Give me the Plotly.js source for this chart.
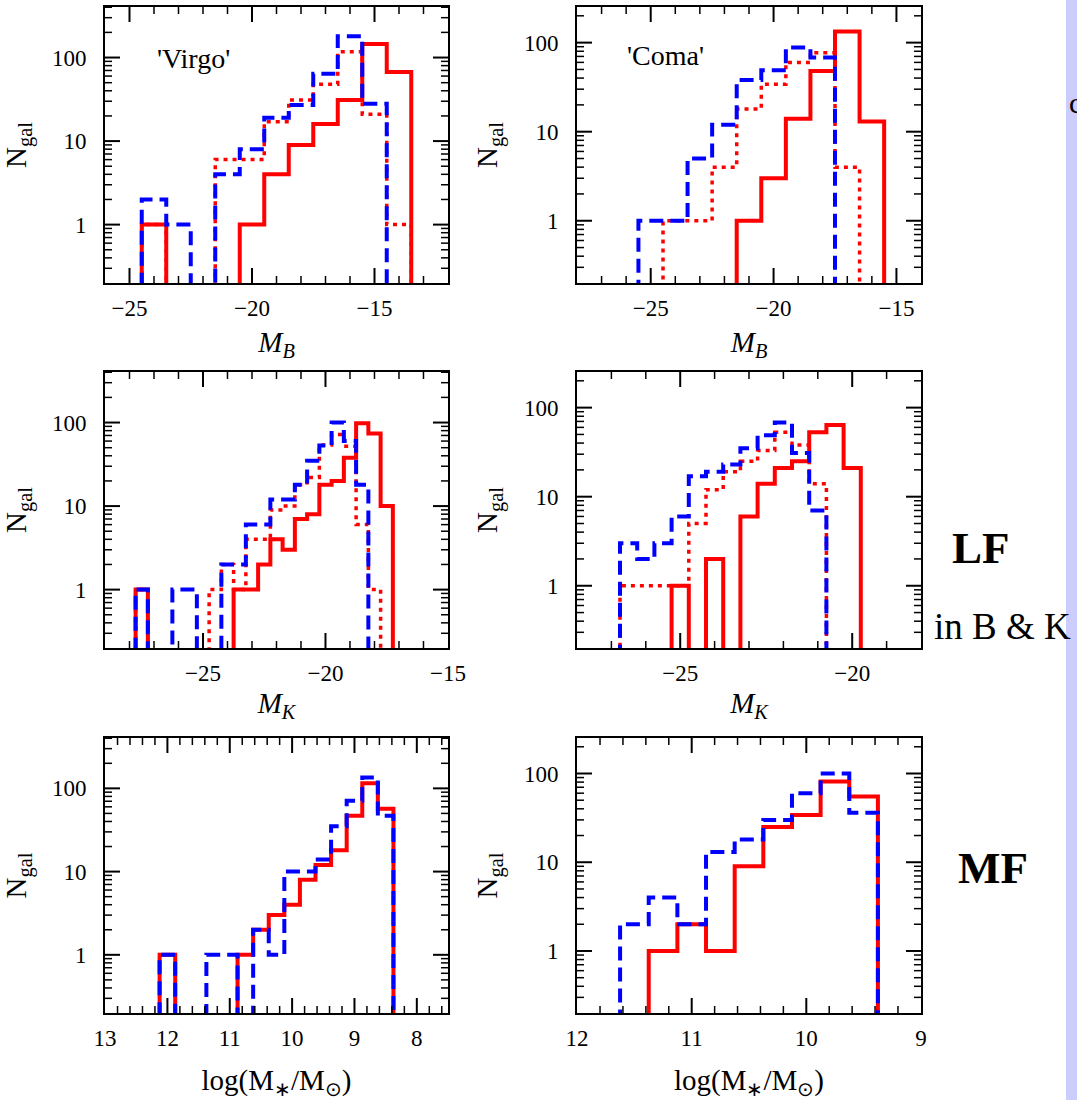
<!DOCTYPE html>
<html>
<head>
<meta charset="utf-8">
<script src="https://cdn.plot.ly/plotly-3.0.1.min.js"></script>
<style>html,body{margin:0;padding:0;background:#ffffff;}</style>
</head>
<body>
<div id="chart" style="width:1077px;height:1100px"></div>
<script>
// ---------------- DATA ----------------
// Panel 1: 'Virgo', B-band luminosity function (bin centres, mag)
const virgoB_centers = [-24, -23, -22, -21, -20, -19, -18, -17, -16, -15, -14];
const virgoB_solid   = [1, 0, 0, 0, 1, 4, 9, 16, 31, 145, 67];
const virgoB_dotted  = [1, 0, 0, 6, 6, 17, 31, 48, 117, 21, 1];
const virgoB_dashed  = [2, 1, 0, 4, 8, 19, 27, 64, 180, 28, 0];

// Panel 2: 'Coma', B-band
const comaB_centers = [-25, -24, -23, -22, -21, -20, -19, -18, -17, -16];
const comaB_solid   = [0, 0, 0, 0, 1, 3, 14, 48, 133, 13];
const comaB_dotted  = [0, 1, 1, 4, 18, 34, 60, 77, 4, 0];
const comaB_dashed  = [1, 1, 5, 12, 38, 49, 88, 68, 0, 0];

// Panel 3: 'Virgo', K-band
const virgoK_centers = [-27.5, -27, -26.5, -26, -25.5, -25, -24.5, -24, -23.5, -23, -22.5,
                        -22, -21.5, -21, -20.5, -20, -19.5, -19, -18.5, -18, -17.5];
const virgoK_solid   = [1, 0, 0, 0, 0, 0, 0, 0, 1, 1, 2, 4, 3, 7, 8, 18, 20, 38, 98, 74, 10];
const virgoK_dotted  = [1, 0, 0, 0, 0, 0, 1, 2, 1, 4, 4, 9, 10, 18, 22, 54, 72, 52, 6, 1, 0];
const virgoK_dashed  = [1, 0, 0, 1, 1, 0, 0, 2, 2, 6, 6, 12, 12, 18, 35, 53, 100, 60, 18, 0, 0];

// Panel 4: 'Coma', K-band
const comaK_centers = [-26.5, -26, -25.5, -25, -24.5, -24, -23.5, -23, -22.5, -22, -21.5, -21, -20.5, -20];
const comaK_solid   = [0, 0, 0, 1, 0, 2, 0, 6, 14, 21, 25, 53, 64, 21];
const comaK_dotted  = [1, 1, 1, 1, 5, 12, 19, 25, 33, 53, 38, 14, 0, 0];
const comaK_dashed  = [3, 2, 3, 6, 17, 19, 23, 35, 49, 68, 31, 7, 0, 0];

// Panel 5: 'Virgo', stellar mass function (bin centres in log M*/Msun)
const virgoM_centers = [12.0, 11.75, 11.5, 11.25, 11.0, 10.75, 10.5, 10.25, 10.0, 9.75, 9.5, 9.25, 9.0, 8.75, 8.5];
const virgoM_solid   = [1, 0, 0, 0, 0, 1, 2, 3, 4, 8, 12, 18, 47, 115, 57];
const virgoM_dashed  = [1, 0, 0, 1, 1, 0, 2, 1, 10, 10, 14, 35, 71, 135, 47];

// Panel 6: 'Coma', stellar mass function
const comaM_centers = [11.5, 11.25, 11.0, 10.75, 10.5, 10.25, 10.0, 9.75, 9.5];
const comaM_solid   = [0, 1, 2, 1, 9, 25, 34, 81, 55];
const comaM_dashed  = [2, 4, 2, 13, 18, 30, 60, 100, 36];

// Tick labels
const yTickVals = [1, 10, 100];
const yTickText = ['1', '10', '100'];

// ---------------- STYLE / HELPERS ----------------
const SERIF = 'Liberation Serif, serif';
const RED = '#ff0000', BLUE = '#0000ff';
const FLOOR = 0.01; // empty bins drop below the axis

function stepPath(centers, counts) {
  const d = centers[1] - centers[0];
  const xs = [centers[0] - d / 2], ys = [FLOOR];
  for (let i = 0; i < centers.length; i++) {
    const v = counts[i] > 0 ? counts[i] : FLOOR;
    xs.push(centers[i] - d / 2, centers[i] + d / 2);
    ys.push(v, v);
  }
  xs.push(centers[centers.length - 1] + d / 2);
  ys.push(FLOOR);
  return {x: xs, y: ys};
}

function trace(centers, counts, style, n) {
  const p = stepPath(centers, counts);
  const s = n === 1 ? '' : String(n);
  const line = {color: style === 'dashed' ? BLUE : RED, width: 4};
  if (style === 'dotted') { line.dash = '4px,5px'; line.width = 3.5; }
  if (style === 'dashed') { line.dash = '14px,7px'; }
  return {x: p.x, y: p.y, type: 'scatter', mode: 'lines', line: line,
          xaxis: 'x' + s, yaxis: 'y' + s, showlegend: false};
}

const traces = [
  trace(virgoB_centers, virgoB_solid, 'solid', 1),
  trace(virgoB_centers, virgoB_dotted, 'dotted', 1),
  trace(virgoB_centers, virgoB_dashed, 'dashed', 1),
  trace(comaB_centers, comaB_solid, 'solid', 2),
  trace(comaB_centers, comaB_dotted, 'dotted', 2),
  trace(comaB_centers, comaB_dashed, 'dashed', 2),
  trace(virgoK_centers, virgoK_solid, 'solid', 3),
  trace(virgoK_centers, virgoK_dotted, 'dotted', 3),
  trace(virgoK_centers, virgoK_dashed, 'dashed', 3),
  trace(comaK_centers, comaK_solid, 'solid', 4),
  trace(comaK_centers, comaK_dotted, 'dotted', 4),
  trace(comaK_centers, comaK_dashed, 'dashed', 4),
  trace(virgoM_centers, virgoM_solid, 'solid', 5),
  trace(virgoM_centers, virgoM_dashed, 'dashed', 5),
  trace(comaM_centers, comaM_solid, 'solid', 6),
  trace(comaM_centers, comaM_dashed, 'dashed', 6)
];

// minor tick positions on the log axes (2..9 per decade)
const yMinor = [];
[0.1, 1, 10, 100].forEach(dec => { for (let k = 2; k <= 9; k++) yMinor.push(dec * k); });

const W = 1077, H = 1100;
const colX = [[105, 448], [577, 921]];
const rowY = [[7, 283], [372, 648], [738, 1013]];
const MB = '<i>M</i><sub><i>B</i></sub>';
const MK = '<i>M</i><sub><i>K</i></sub>';
const LM = 'log(M<sub>∗</sub>/M<sub>⊙</sub>)';

// panel axis set-up
const panels = [
  {n: 1, col: 0, row: 0, xr: [-26, -12],     major: 5, minor: 1,   ytop: 2.605, title: MB, so: 12},
  {n: 2, col: 1, row: 0, xr: [-28, -14],     major: 5, minor: 1,   ytop: 2.40,  title: MB, so: 12},
  {n: 3, col: 0, row: 1, xr: [-29, -14.999], major: 5, minor: 1,   ytop: 2.605, title: MK, so: 8},
  {n: 4, col: 1, row: 1, xr: [-28, -18],     major: 5, minor: 1,   ytop: 2.40,  title: MK, so: 8},
  {n: 5, col: 0, row: 2, xr: [13.001, 7.5],  major: 1, minor: 0.2, ytop: 2.605, title: LM, so: 20},
  {n: 6, col: 1, row: 2, xr: [12.001, 8.999],major: 1, minor: 0.2, ytop: 2.40,  title: LM, so: 20}
];
const YBOT = Math.log10(0.2);

const layout = {
  width: W, height: H,
  margin: {l: 0, r: 0, t: 0, b: 0, pad: 0},
  showlegend: false,
  shapes: [
    {type: 'rect', xref: 'paper', yref: 'paper', x0: 1066 / W, x1: 1, y0: 0, y1: 1,
     fillcolor: '#ccccff', line: {width: 0}, layer: 'below'}
  ],
  annotations: []
};

const MAJ = 15, MIN = 7;
panels.forEach(p => {
  const s = p.n === 1 ? '' : String(p.n);
  const xl = colX[p.col][0] / W, xrt = colX[p.col][1] / W;
  const yb = 1 - rowY[p.row][1] / H, yt = 1 - rowY[p.row][0] / H;
  layout['xaxis' + s] = {
    domain: [xl, xrt],
    anchor: 'y' + s, range: p.xr, autorange: false,
    tickmode: 'linear', tick0: 0, dtick: p.major, ticks: '',
    showline: true, linecolor: '#000', linewidth: 2, mirror: true,
    showgrid: false, zeroline: false,
    tickfont: {family: SERIF, size: 23, color: '#000'},
    ticklabelstandoff: 3,
    title: {text: p.title, font: {family: SERIF, size: 29, color: '#000'}, standoff: p.so},
    automargin: false
  };
  layout['yaxis' + s] = {
    domain: [yb, yt],
    anchor: 'x' + s, type: 'log', range: [YBOT, p.ytop], autorange: false,
    tickmode: 'array', tickvals: yTickVals, ticktext: yTickText, ticks: '',
    showline: true, linecolor: '#000', linewidth: 2, mirror: true,
    showgrid: false, zeroline: false,
    tickfont: {family: SERIF, size: 23, color: '#000'},
    ticklabelstandoff: 12,
    title: {text: 'N<sub>gal</sub>', font: {family: SERIF, size: 29, color: '#000'}, standoff: 18},
    automargin: false
  };

  // inside tick marks on all four sides; the tick values go through the axes' scales
  const lo = Math.min(p.xr[0], p.xr[1]), hi = Math.max(p.xr[0], p.xr[1]);
  const kmin = Math.ceil(lo / p.minor - 1e-6), kmax = Math.floor(hi / p.minor + 1e-6);
  for (let k = kmin; k <= kmax; k++) {
    const v = +(k * p.minor).toFixed(6);
    if (v <= lo + 1e-3 || v >= hi - 1e-3) continue;
    const isMaj = Math.abs(v / p.major - Math.round(v / p.major)) < 1e-6;
    const len = (isMaj ? MAJ : MIN) / H, wd = isMaj ? 2 : 1.5;
    layout.shapes.push({type: 'line', xref: 'x' + s, yref: 'paper',
      x0: v, x1: v, y0: yb, y1: yb + len, line: {color: '#000', width: wd}});
    layout.shapes.push({type: 'line', xref: 'x' + s, yref: 'paper',
      x0: v, x1: v, y0: yt, y1: yt - len, line: {color: '#000', width: wd}});
  }
  const yvals = yTickVals.map(v => [v, true]).concat(yMinor.map(v => [v, false]));
  yvals.forEach(([v, isMaj]) => {
    const lv = Math.log10(v);
    if (lv <= YBOT + 1e-3 || lv >= p.ytop - 1e-3) return;
    const len = (isMaj ? MAJ : MIN) / W, wd = isMaj ? 2 : 1.5;
    layout.shapes.push({type: 'line', xref: 'paper', yref: 'y' + s,
      x0: xl, x1: xl + len, y0: v, y1: v, line: {color: '#000', width: wd}});
    layout.shapes.push({type: 'line', xref: 'paper', yref: 'y' + s,
      x0: xrt, x1: xrt - len, y0: v, y1: v, line: {color: '#000', width: wd}});
  });
});

layout.annotations = [
  {text: "'Virgo'", xref: 'paper', yref: 'paper', x: 155 / W, y: 1 - 58 / H,
   xanchor: 'left', yanchor: 'middle', showarrow: false,
   font: {family: SERIF, size: 28, color: '#000'}},
  {text: "'Coma'", xref: 'paper', yref: 'paper', x: 625 / W, y: 1 - 56 / H,
   xanchor: 'left', yanchor: 'middle', showarrow: false,
   font: {family: SERIF, size: 28, color: '#000'}},
  {text: '<b>LF</b>', xref: 'paper', yref: 'paper', x: 981 / W, y: 1 - 548 / H,
   xanchor: 'center', yanchor: 'middle', showarrow: false,
   font: {family: SERIF, size: 45, color: '#000'}},
  {text: 'in B &amp; K', xref: 'paper', yref: 'paper', x: 1002 / W, y: 1 - 626 / H,
   xanchor: 'center', yanchor: 'middle', showarrow: false,
   font: {family: SERIF, size: 37, color: '#000'}},
  {text: '<b>MF</b>', xref: 'paper', yref: 'paper', x: 993 / W, y: 1 - 868 / H,
   xanchor: 'center', yanchor: 'middle', showarrow: false,
   font: {family: SERIF, size: 45, color: '#000'}},
  {text: 'c', xref: 'paper', yref: 'paper', x: 1067 / W, y: 1 - 103 / H,
   xanchor: 'left', yanchor: 'middle', showarrow: false,
   font: {family: SERIF, size: 30, color: '#000'}}
];

Plotly.newPlot('chart', traces, layout, {staticPlot: true, displayModeBar: false});
</script>
</body>
</html>
